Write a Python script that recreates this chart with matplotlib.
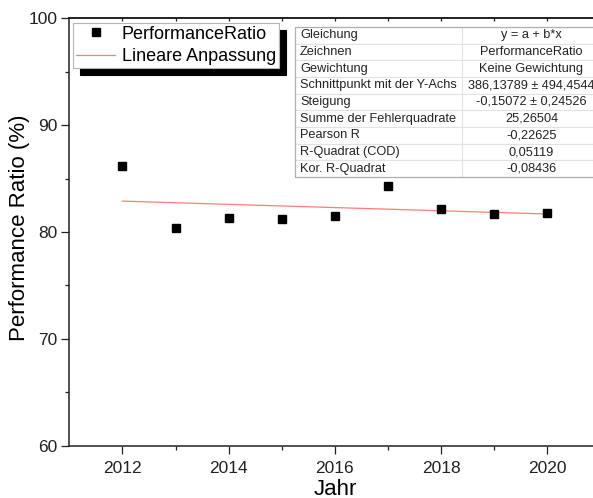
import numpy as np
import matplotlib
matplotlib.use("Agg")
import matplotlib.pyplot as plt
from matplotlib.patches import Rectangle

plt.rcParams['font.family'] = ['Liberation Sans', 'DejaVu Sans']

# ---- data ----
years = [2012, 2013, 2014, 2015, 2016, 2017, 2018, 2019, 2020]
performance_ratio = [86.2, 80.35, 81.28, 81.19, 81.50, 84.33, 82.12, 81.66, 81.81]
fit_intercept = 386.13789
fit_slope = -0.15072

table_labels = ["Gleichung", "Zeichnen", "Gewichtung", "Schnittpunkt mit der Y-Achs",
                "Steigung", "Summe der Fehlerquadrate", "Pearson R",
                "R-Quadrat (COD)", "Kor. R-Quadrat"]
table_values = ["y = a + b*x", "PerformanceRatio", "Keine Gewichtung",
                "386,13789 ± 494,4544", "-0,15072 ± 0,24526", "25,26504",
                "-0,22625", "0,05119", "-0,08436"]

xticks = [2012, 2014, 2016, 2018, 2020]
yticks = [60, 70, 80, 90, 100]

# ---- figure ----
W, H = 593, 498
fig = plt.figure(figsize=(W / 100, H / 100), dpi=100)
ax_l, ax_r, ax_t, ax_b = 69.3, 600.5, 18.3, 445.7
ax = fig.add_axes([ax_l / W, (H - ax_b) / H, (ax_r - ax_l) / W, (ax_b - ax_t) / H])

ax.plot(years, performance_ratio, linestyle='none', marker='s', ms=6.3,
        color='black', label='PerformanceRatio', zorder=3)
xf = np.array([years[0], years[-1]])
ax.plot(xf, fit_intercept + fit_slope * xf, color='#ff7b7b', lw=0.9,
        label='Lineare Anpassung', zorder=2)

ax.set_xlim(2011, 2021)
ax.set_ylim(60, 100)
ax.set_xticks(xticks)
ax.set_xticks([2013, 2015, 2017, 2019], minor=True)
ax.set_yticks(yticks)
ax.set_yticks([65, 75, 85, 95], minor=True)

for sp in ax.spines.values():
    sp.set_linewidth(1.1)
    sp.set_color('#222222')

ax.tick_params(axis='both', which='major', direction='out', length=5.8, width=0.9,
               labelsize=12.5, colors='#222222')
ax.tick_params(axis='x', which='major', pad=5.5)
ax.tick_params(axis='y', which='major', pad=2.5)
ax.tick_params(axis='both', which='minor', direction='out', length=2.9, width=0.9,
               colors='#222222')

# top ticks (inward, short)
sx = ax.secondary_xaxis('top')
sx.set_xticks(list(range(2012, 2021)))
sx.tick_params(direction='in', length=2.2, width=0.9, labeltop=False, colors='#222222')
sx.spines['top'].set_linewidth(1.1)
# right ticks (inward)
sy = ax.secondary_yaxis('right')
sy.set_yticks(yticks)
sy.tick_params(direction='in', length=5.8, width=0.9, labelright=False, colors='#222222')

ax.set_xlabel('Jahr', fontsize=16)
ax.set_ylabel('Performance Ratio (%)', fontsize=16)
ax.xaxis.label.set_va('center')
ax.yaxis.label.set_va('center')
ax.xaxis.set_label_coords(0.5, (ax_b - 489) / (ax_b - ax_t))
ax.yaxis.set_label_coords((20 - ax_l) / (ax_r - ax_l), 0.51)

# legend with black drop shadow
leg = ax.legend(loc='upper left',
                bbox_to_anchor=((73 - ax_l) / (ax_r - ax_l), (ax_b - 23) / (ax_b - ax_t)),
                borderaxespad=0, fontsize=13, frameon=True, fancybox=False,
                framealpha=1.0, facecolor='white',
                handlelength=2.2, handletextpad=0.35, borderpad=0.15,
                labelspacing=0.3, markerscale=1.0,
                shadow={'ox': 5, 'oy': -5, 'color': 'black', 'alpha': 1})
leg.get_frame().set_edgecolor('#b5b5b5')
leg.get_frame().set_linewidth(0.8)

# statistics table
tx0 = (295 - ax_l) / (ax_r - ax_l)
ty1 = (ax_b - 27) / (ax_b - ax_t)
ty0 = (ax_b - 177) / (ax_b - ax_t)
cells = [[a, b] for a, b in zip(table_labels, table_values)]
tab = ax.table(cellText=cells, colWidths=[0.548, 0.452],
               bbox=[tx0, ty0, 1.0 - tx0, ty1 - ty0], zorder=6)
tab.auto_set_font_size(False)
tab.set_fontsize(9.2)
for (r, c), cell in tab.get_celld().items():
    cell.set_edgecolor('#e2e2e2')
    cell.set_linewidth(0.8)
    cell.set_facecolor('white')
    cell.PAD = 0.03
    cell.get_text().set_color('#222222')
    if c == 0:
        cell.get_text().set_ha('left')
        cell._loc = 'left'
    else:
        cell.get_text().set_ha('center')
        cell._loc = 'center'
ax.add_patch(Rectangle((tx0, ty0), 1.0 - tx0, ty1 - ty0, transform=ax.transAxes,
                       fill=False, edgecolor='#b0b0b0', lw=0.9, zorder=7, clip_on=False))

fig.savefig('out.png', dpi=100)
